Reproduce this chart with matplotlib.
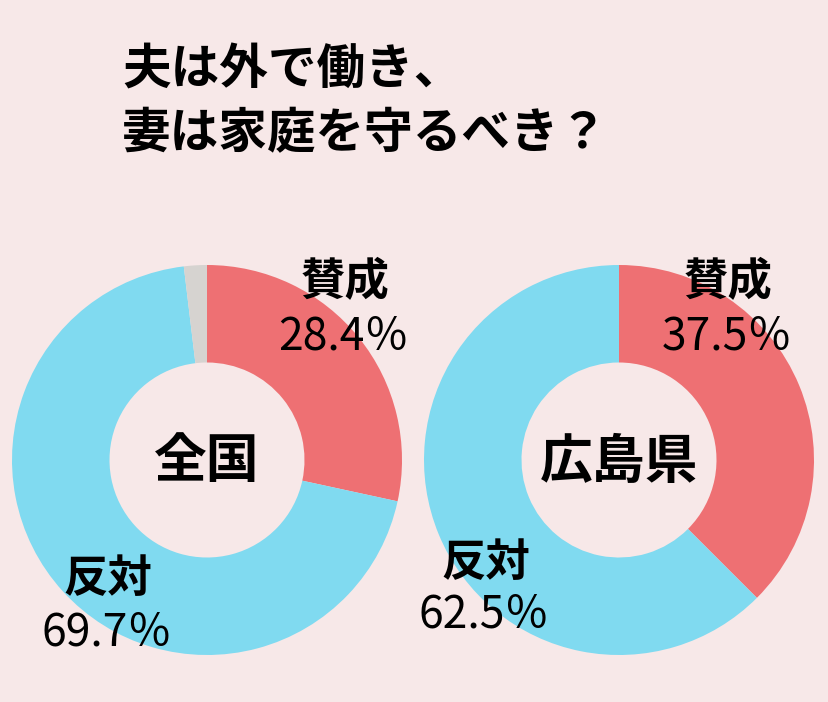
import matplotlib
matplotlib.use("Agg")
import matplotlib.pyplot as plt

plt.rcParams['font.family'] = ['Noto Sans CJK JP', 'DejaVu Sans']

W, H = 829, 702
BG = "#F7E8E8"
RED = "#EE7073"
BLUE = "#80DAF0"
GRAY = "#D6D3D0"

title_lines = ["夫は外で働き、", "妻は家庭を守るべき？"]
regions = ["全国", "広島県"]
categories = ["賛成", "反対", "その他"]
values_national = [28.4, 69.7, 1.9]
values_hiroshima = [37.5, 62.5]
pct_labels_national = ["28.4％", "69.7％"]
pct_labels_hiroshima = ["37.5％", "62.5％"]

fig = plt.figure(figsize=(W / 100, H / 100), dpi=100, facecolor=BG)


def fx(x):
    return x / W


def fy(y):
    return 1 - y / H


def donut(cx, cy, r, vals, colors):
    ax = fig.add_axes([fx(cx - r), fy(cy + r), 2 * r / W, 2 * r / H])
    ax.pie(vals, colors=colors, startangle=90, counterclock=False, radius=1,
           wedgeprops=dict(width=0.5, linewidth=0))
    ax.set_xlim(-1, 1)
    ax.set_ylim(-1, 1)
    ax.set_aspect('auto')
    ax.axis('off')
    return ax


donut(207, 460, 195, values_national, [RED, BLUE, GRAY])
donut(619, 460, 195, values_hiroshima, [RED, BLUE])

# title
fig.text(fx(122), fy(70), title_lines[0], fontsize=35, fontweight='bold', ha='left', va='center')
fig.text(fx(122), fy(134), title_lines[1], fontsize=35, fontweight='bold', ha='left', va='center')

# centre labels
fig.text(fx(207), fy(462), regions[0], fontsize=38, fontweight='bold', ha='center', va='center')
fig.text(fx(619), fy(462), regions[1], fontsize=38, fontweight='bold', ha='center', va='center')

lab_kw = dict(fontsize=32, fontweight='bold', ha='center', va='center')
pct_kw = dict(fontsize=32, fontweight='normal', ha='center', va='center')

# national
fig.text(fx(345), fy(282), categories[0], **lab_kw)
fig.text(fx(344), fy(337), pct_labels_national[0], **pct_kw)
fig.text(fx(108), fy(579), categories[1], **lab_kw)
fig.text(fx(107), fy(632), pct_labels_national[1], **pct_kw)

# hiroshima
fig.text(fx(728), fy(282), categories[0], **lab_kw)
fig.text(fx(727), fy(337), pct_labels_hiroshima[0], **pct_kw)
fig.text(fx(486), fy(563), categories[1], **lab_kw)
fig.text(fx(484), fy(614), pct_labels_hiroshima[1], **pct_kw)

fig.savefig("out.png", dpi=100, facecolor=BG)
